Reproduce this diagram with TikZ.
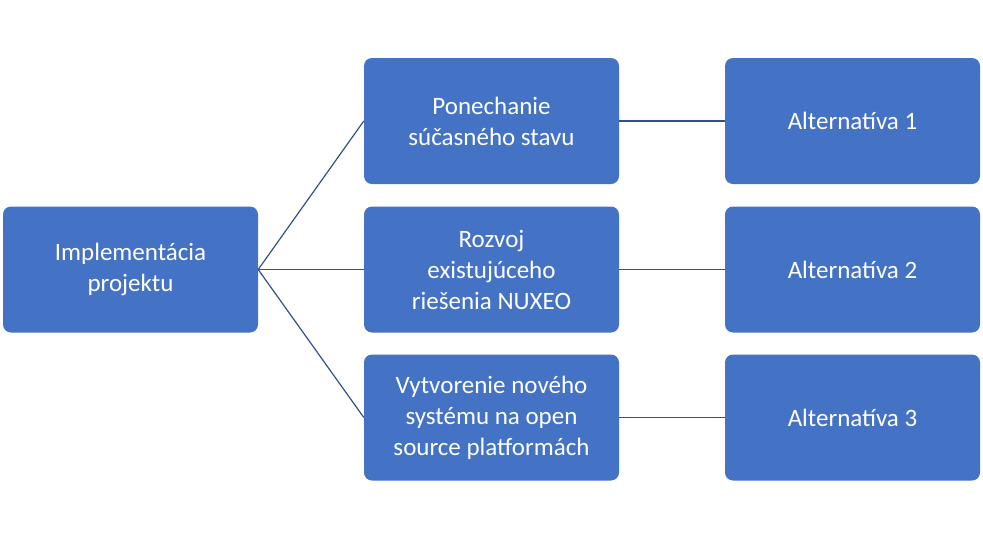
\documentclass[tikz,border=0pt]{standalone}
\usepackage{fontspec}
\setmainfont{Carlito}
\definecolor{boxblue}{HTML}{4472C4}
\definecolor{lineblue}{HTML}{2F528F}
\begin{document}
\begin{tikzpicture}[x=1pt,y=-1pt,
  box/.style={fill=boxblue,draw=none,rounded corners=8pt,minimum width=255pt,minimum height=126pt,
    text=white,align=center,font=\fontsize{25}{31}\selectfont,inner sep=2pt},
  link/.style={draw=lineblue,line width=1.2pt}]
  \useasboundingbox (0,0) rectangle (983,539);
  \node[box] (root) at (130.5,269.5) {Implementácia\\projektu};
  \node[box] (opt1) at (491.5,121) {Ponechanie\\súčasného stavu};
  \node[box] (opt2) at (491.5,269.5) {Rozvoj\\existujúceho\\riešenia NUXEO};
  \node[box] (opt3) at (491.5,417.5) {Vytvorenie nového\\systému na open\\source platformách};
  \node[box] (alt1) at (852.5,121) {Alternatíva 1};
  \node[box] (alt2) at (852.5,269.5) {Alternatíva 2};
  \node[box] (alt3) at (852.5,417.5) {Alternatíva 3};
  \foreach \n in {1,2,3}{
    \draw[link] (root.east) -- (opt\n.west);
    \draw[link] (opt\n.east) -- (alt\n.west);
  }
\end{tikzpicture}
\end{document}
